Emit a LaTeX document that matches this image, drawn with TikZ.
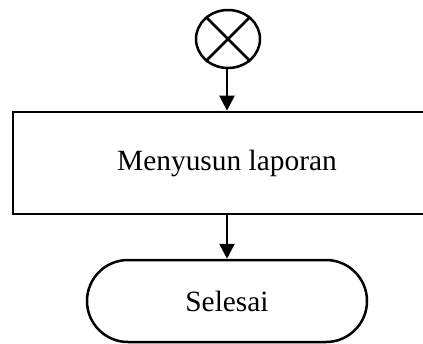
\documentclass[tikz,border=0pt]{standalone}
\usepackage{fontspec}
\setmainfont{Liberation Serif}
\usetikzlibrary{shapes.geometric,shapes.misc,arrows.meta}
\begin{document}
\begin{tikzpicture}[x=1bp,y=-1bp,
  conn/.style={line width=2.5bp,-{Triangle[length=15bp,width=15bp]}},
  xcirc/.style={ellipse,draw,line width=2.5bp,minimum width=64bp,minimum height=58bp,inner sep=0pt},
  procbox/.style={rectangle,draw,line width=2.8bp,minimum width=428bp,minimum height=102bp,inner sep=0pt,font=\fontsize{29.5}{34}\selectfont},
  termbox/.style={rounded rectangle,draw,line width=2.5bp,minimum width=280bp,minimum height=82bp,inner sep=0pt,font=\fontsize{29.5}{34}\selectfont}]
\useasboundingbox (0,0) rectangle (423,344);
\clip (0,0) rectangle (423,344);
\node[xcirc] (c) at (228,39) {};
\draw[line width=2.5bp] (c.45) -- (c.225) (c.135) -- (c.315);
\node[procbox] (p) at (227,163) {Menyusun laporan};
\node[termbox] (t) at (227,301) {Selesai};
\draw[conn] (c.south -| p.north) -- (p.north);
\draw[conn] (p.south) -- (t.north);
\end{tikzpicture}
\end{document}
